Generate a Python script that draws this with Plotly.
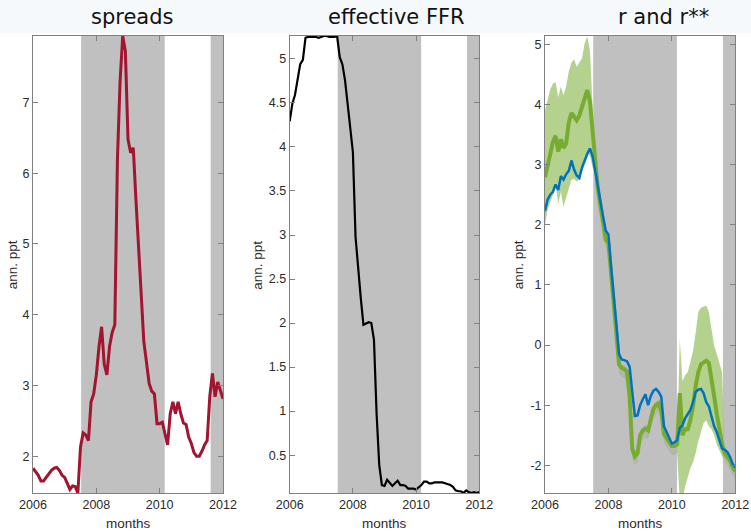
import plotly.graph_objects as go

# ---------------- data ----------------
# monthly observations, 2006m1 .. 2012m1
month_index = list(range(73))
years = [2006 + m / 12 for m in month_index]

spreads = [1.83, 1.78, 1.73, 1.65, 1.65, 1.70, 1.76, 1.80, 1.83, 1.84,
           1.80, 1.73, 1.70, 1.60, 1.53, 1.58, 1.57, 1.48, 2.13, 2.33,
           2.30, 2.22, 2.77, 2.88, 3.15, 3.55, 3.83, 3.30, 3.15, 3.55,
           3.75, 3.86, 6.20, 7.30, 7.94, 7.73, 6.48, 6.29, 6.36, 5.63,
           4.95, 4.25, 3.62, 3.33, 3.03, 2.92, 2.88, 2.46, 2.46, 2.48,
           2.30, 2.16, 2.60, 2.77, 2.60, 2.77, 2.60, 2.47, 2.45, 2.27,
           2.18, 2.05, 2.00, 2.00, 2.07, 2.16, 2.22, 2.85, 3.17, 2.84,
           3.05, 2.93, 2.81]

ffr = [4.29, 4.49, 4.59, 4.79, 4.94, 4.99, 5.24, 5.25, 5.25, 5.25, 5.25, 5.24,
       5.25, 5.26, 5.26, 5.25, 5.25, 5.25, 5.26, 5.02, 4.94, 4.76, 4.49, 4.24,
       3.94, 2.98, 2.61, 2.28, 1.98, 2.00, 2.01, 2.00, 1.81, 0.97, 0.39, 0.16,
       0.15, 0.22, 0.18, 0.15, 0.18, 0.21, 0.16, 0.16, 0.15, 0.12, 0.12, 0.12,
       0.11, 0.13, 0.16, 0.20, 0.20, 0.18, 0.18, 0.19, 0.19, 0.19, 0.19, 0.18,
       0.17, 0.16, 0.14, 0.10, 0.09, 0.09, 0.07, 0.10, 0.08, 0.07, 0.08, 0.07,
       0.08]

r_star = [2.79, 3.00, 3.22, 3.38, 3.48, 3.22, 3.42, 3.28, 3.35, 3.70,
          3.86, 3.80, 3.74, 3.82, 3.95, 4.12, 4.24, 4.05, 3.50,
          3.00, 2.60, 2.30, 2.05, 1.75, 1.70, 1.20, 0.65, 0.20, -0.32,
          -0.38, -0.40, -0.44, -0.85, -1.72, -1.85, -1.80, -1.50, -1.42, -1.39,
          -1.42, -1.25, -1.06, -1.00, -0.97, -1.10, -1.48, -1.55, -1.62, -1.68,
          -1.68, -1.65,
          -0.80, -1.50, -1.40, -1.40, -1.25, -1.02, -0.68, -0.45, -0.32, -0.28,
          -0.26, -0.30, -0.55, -0.85, -1.15, -1.40, -1.65, -1.80, -1.85, -1.92,
          -2.02, -2.10]

r_actual = [2.23, 2.42, 2.50, 2.55, 2.67, 2.58, 2.81, 2.75, 2.84, 2.90,
            3.07, 2.92, 2.82, 2.78, 2.95, 3.08, 3.18, 3.27, 3.14,
            2.90, 2.62, 2.35, 2.13, 1.90, 1.84, 1.30, 0.75, 0.35, -0.15,
            -0.24, -0.25, -0.27, -0.36, -0.80, -1.18, -1.17, -1.00, -0.90, -0.82,
            -1.00, -0.85, -0.76, -0.73, -0.78, -0.86, -1.35, -1.45, -1.55, -1.64,
            -1.62, -1.58,
            -1.38, -1.33, -1.22, -1.15, -1.08, -0.95, -0.78, -0.74, -0.73, -0.80,
            -0.95, -1.02, -1.18, -1.35, -1.45, -1.60, -1.72, -1.74, -1.78, -1.86,
            -1.98, -2.03]

r_star_upper = [3.90, 4.10, 4.25, 4.35, 4.37, 4.12, 4.30, 4.15, 4.30, 4.55,
                4.70, 4.75, 4.63, 4.70, 4.77, 5.02, 5.13, 4.90, 4.10,
                3.07, 2.67, 2.37, 2.12, 1.82, 1.77, 1.27, 0.72, 0.27, -0.25,
                -0.31, -0.33, -0.37, -0.78, -1.65, -1.78, -1.73, -1.43, -1.35, -1.32,
                -1.35, -1.18, -0.99, -0.93, -0.90, -1.03, -1.41, -1.48, -1.55, -1.61,
                -1.61, -1.58,
                0.10, -0.60, -0.50, -0.45, -0.28, -0.10, 0.20, 0.55, 0.62, 0.64,
                0.66, 0.55, 0.25, -0.02, -0.15, -0.30, -0.45, -1.73, -1.78, -1.85,
                -1.95, -2.03]

r_star_lower = [2.00, 2.25, 2.38, 2.50, 2.70, 2.35, 2.55, 2.30, 2.45, 2.60,
                2.75, 2.76, 2.72, 2.75, 2.90, 3.10, 3.20, 3.15, 2.95,
                2.85, 2.45, 2.15, 1.90, 1.60, 1.55, 1.05, 0.50, 0.05, -0.47,
                -0.53, -0.55, -0.59, -1.00, -1.87, -2.00, -1.95, -1.65, -1.57, -1.54,
                -1.57, -1.40, -1.21, -1.15, -1.12, -1.25, -1.63, -1.70, -1.77, -1.83,
                -1.83, -1.80,
                -2.60, -2.60, -2.35, -2.20, -2.05, -1.95, -1.80, -1.60, -1.45, -1.30,
                -1.25, -1.35, -1.40, -1.50, -1.65, -1.75, -1.85, -1.95, -2.00, -2.07,
                -2.17, -2.25]

shade_periods = [(2007.52, 2010.16), (2011.61, 2012.0)]

titles = ["spreads", "effective FFR", "r and r**"]
x_ticks = [2006, 2008, 2010, 2012]
x_range = [2006, 2012]
y1_ticks = [2, 3, 4, 5, 6, 7]
y2_ticks = [0.5, 1, 1.5, 2, 2.5, 3, 3.5, 4, 4.5, 5]
y3_ticks = [-2, -1, 0, 1, 2, 3, 4, 5]
y1_range = [1.48, 7.94]
y2_range = [0.07, 5.26]
y3_range = [-2.46, 5.14]

# ---------------- style ----------------
W, H = 751, 531
SHADE = "rgba(176,176,176,0.8)"
RED = "#A2142F"
GREEN = "#77AC30"
BLUE = "#0072BD"
BAND = "rgba(119,172,48,0.55)"
TICK_FONT = dict(family="Liberation Sans, Arial, sans-serif", size=12.5, color="#2b2b2b")
LABEL_FONT = dict(family="Liberation Sans, Arial, sans-serif", size=13.5, color="#2b2b2b")
TITLE_FONT = dict(family="DejaVu Sans, sans-serif", size=21, color="#111111")

panel_px = [(33, 223), (289.7, 479.3), (545, 735.3)]
plot_top, plot_bottom = 36, 493

fig = go.Figure()


def add_shading(xa, ya, yr):
    for a, b in shade_periods:
        fig.add_trace(go.Scatter(
            x=[a, b, b, a, a], y=[yr[0], yr[0], yr[1], yr[1], yr[0]],
            mode="lines", fill="toself", fillcolor=SHADE, line=dict(width=0),
            xaxis=xa, yaxis=ya, hoverinfo="skip", showlegend=False))


# panel 1
add_shading("x", "y", y1_range)
fig.add_trace(go.Scatter(x=years, y=spreads, mode="lines",
                         line=dict(color=RED, width=3), xaxis="x", yaxis="y",
                         showlegend=False))
# panel 2
add_shading("x2", "y2", y2_range)
fig.add_trace(go.Scatter(x=years, y=ffr, mode="lines",
                         line=dict(color="black", width=2.2), xaxis="x2", yaxis="y2",
                         showlegend=False))
# panel 3
fig.add_trace(go.Scatter(x=years + years[::-1], y=r_star_upper + r_star_lower[::-1],
                         mode="lines", fill="toself", fillcolor=BAND, line=dict(width=0),
                         xaxis="x3", yaxis="y3", hoverinfo="skip", showlegend=False))
add_shading("x3", "y3", y3_range)
fig.add_trace(go.Scatter(x=years, y=r_star, mode="lines",
                         line=dict(color=GREEN, width=4), xaxis="x3", yaxis="y3",
                         showlegend=False))
fig.add_trace(go.Scatter(x=years, y=r_actual, mode="lines",
                         line=dict(color=BLUE, width=2.5), xaxis="x3", yaxis="y3",
                         showlegend=False))

axis_common = dict(showline=True, linecolor="#808080", linewidth=1, mirror="allticks",
                   ticks="inside", ticklen=5, tickcolor="#808080", showgrid=False,
                   zeroline=False, tickfont=TICK_FONT, automargin=False)

ydom = [1 - plot_bottom / H, 1 - plot_top / H]
y_specs = [(y1_ticks, y1_range), (y2_ticks, y2_range), (y3_ticks, y3_range)]
layout_axes = {}
for i, ((x0, x1), (yt, yr)) in enumerate(zip(panel_px, y_specs)):
    sx = "" if i == 0 else str(i + 1)
    layout_axes["xaxis" + sx] = dict(axis_common, domain=[x0 / W, x1 / W], anchor="y" + sx,
                                     range=x_range, tickvals=x_ticks,
                                     ticktext=[str(v) for v in x_ticks],
                                     ticklabelstandoff=0)
    layout_axes["yaxis" + sx] = dict(axis_common, domain=ydom, anchor="x" + sx,
                                     range=yr, tickvals=yt,
                                     ticktext=[("%g" % v) for v in yt],
                                     ticklabelstandoff=0)

fig.update_layout(template="none")
fig.update_layout(**layout_axes)

annotations = []
title_cx = [132, 396, 663]
ylabel_x = [12.3, 256.7, 518.3]
for i, (x0, x1) in enumerate(panel_px):
    annotations.append(dict(text=titles[i], xref="paper", yref="paper",
                            x=title_cx[i] / W, y=1 - 17 / H, xanchor="center",
                            yanchor="middle", showarrow=False, font=TITLE_FONT))
    annotations.append(dict(text="months", xref="paper", yref="paper",
                            x=(x0 + x1) / 2 / W, y=1 - 523 / H, xanchor="center",
                            yanchor="middle", showarrow=False, font=LABEL_FONT))
    annotations.append(dict(text="ann. ppt", xref="paper", yref="paper",
                            x=ylabel_x[i] / W, y=1 - 265 / H, xanchor="center",
                            yanchor="middle", textangle=-90, showarrow=False,
                            font=LABEL_FONT))

fig.update_layout(
    width=W, height=H, margin=dict(l=0, r=0, t=0, b=0, autoexpand=False),
    paper_bgcolor="white", plot_bgcolor="white",
    annotations=annotations,
    shapes=[dict(type="rect", xref="paper", yref="paper", x0=0, x1=1,
                 y0=1 - 33 / H, y1=1, fillcolor="rgb(246,249,252)",
                 line=dict(width=0), layer="below")],
    showlegend=False,
)

fig.write_html("out.html")
